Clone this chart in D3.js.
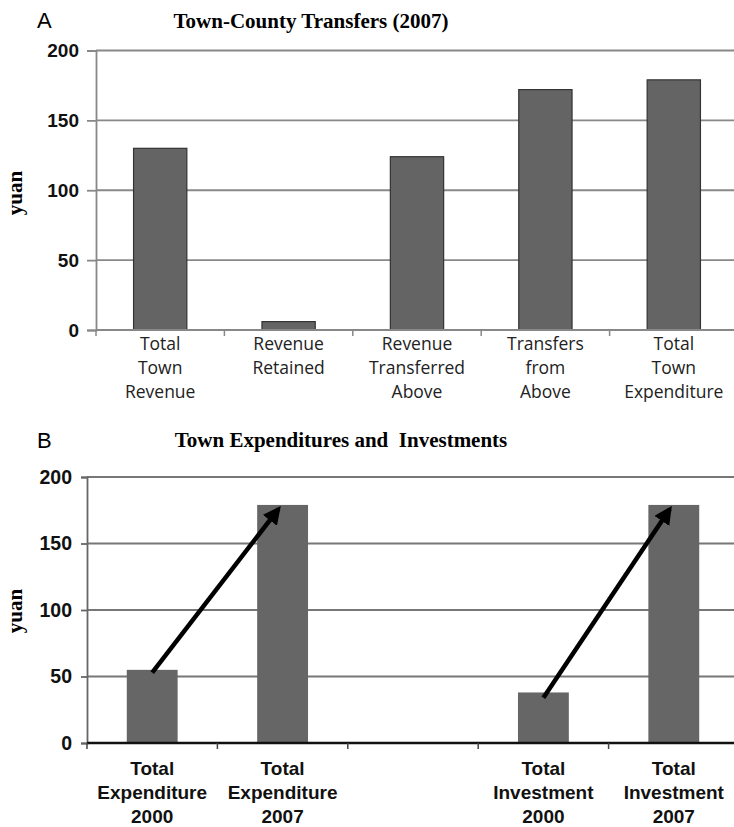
<!DOCTYPE html>
<html>
<head>
<meta charset="utf-8">
<script src="https://cdn.jsdelivr.net/npm/d3@7"></script>
<style>
  body { margin: 0; background: #fff; }
  svg { display: block; }
</style>
</head>
<body>
<div id="chart"></div>
<script>
// panel A data
const catsA = ["Total Town Revenue", "Revenue Retained", "Revenue Transferred Above", "Transfers from Above", "Total Town Expenditure"];
const labelsA = [["Total", "Town", "Revenue"], ["Revenue", "Retained"], ["Revenue", "Transferred", "Above"], ["Transfers", "from", "Above"], ["Total", "Town", "Expenditure"]];
const valuesA = [130, 6, 124, 172, 179];

// panel B data (third slot is an empty gap)
const catsB = ["Total Expenditure 2000", "Total Expenditure 2007", "gap", "Total Investment 2000", "Total Investment 2007"];
const labelsB = [["Total", "Expenditure", "2000"], ["Total", "Expenditure", "2007"], [], ["Total", "Investment", "2000"], ["Total", "Investment", "2007"]];
const valuesB = [55, 179, null, 38, 179];
// arrows: from bar -> to bar, with start / end values
const arrowsB = [
  { from: "Total Expenditure 2000", fromVal: 53, to: "Total Expenditure 2007", toVal: 176 },
  { from: "Total Investment 2000", fromVal: 34, to: "Total Investment 2007", toVal: 176 }
];
const yTicks = [0, 50, 100, 150, 200];

const W = 734, H = 827;
const svg = d3.select("#chart").append("svg").attr("width", W).attr("height", H);

svg.append("defs").append("marker")
  .attr("id", "arrowHead")
  .attr("viewBox", "0 0 10 10")
  .attr("refX", 8).attr("refY", 5)
  .attr("markerWidth", 4).attr("markerHeight", 4)
  .attr("orient", "auto")
  .append("path")
  .attr("d", "M0,0 L10,5 L0,10 Z")
  .attr("fill", "#000");

const sans = "Liberation Sans, Arial, sans-serif";
const serif = "Liberation Serif, Times New Roman, serif";

// ---------- Panel A ----------
let xA = d3.scaleBand().domain(catsA).range([96, 738]).paddingInner(0.585).paddingOuter(0.2925);
let yA = d3.scaleLinear().domain([0, 200]).range([330, 50.5]);

const gA = svg.append("g");

gA.append("text").attr("x", 37).attr("y", 28)
  .style("font-family", sans).style("font-size", "22px")
  .text("A");
gA.append("text").attr("x", 311).attr("y", 28).attr("text-anchor", "middle")
  .style("font-family", serif).style("font-size", "21px").style("font-weight", "bold")
  .text("Town-County Transfers (2007)");

// gridlines
gA.selectAll(".gridA").data(yTicks.slice(1)).join("line")
  .attr("x1", 96).attr("x2", 734)
  .attr("y1", d => yA(d)).attr("y2", d => yA(d))
  .attr("stroke", "#888").attr("stroke-width", 1.8);

// y axis
const yAxisA = gA.append("g").attr("transform", "translate(96,0)")
  .call(d3.axisLeft(yA).tickValues(yTicks).tickSize(9).tickPadding(8));
yAxisA.select(".domain").attr("stroke", "#888").attr("stroke-width", 1.8);
yAxisA.selectAll(".tick line").attr("stroke", "#888").attr("stroke-width", 1.8);
yAxisA.selectAll(".tick text")
  .style("font-family", sans).style("font-size", "19px").style("font-weight", "bold").attr("fill", "#111");

gA.append("text").attr("transform", "translate(22,193) rotate(-90)").attr("text-anchor", "middle")
  .style("font-family", serif).style("font-size", "21px").style("font-weight", "bold")
  .text("yuan");

// bars
gA.selectAll(".barA").data(catsA).join("rect")
  .attr("x", d => xA(d)).attr("width", xA.bandwidth())
  .attr("y", (d, i) => yA(valuesA[i])).attr("height", (d, i) => yA(0) - yA(valuesA[i]))
  .attr("fill", "#646464").attr("stroke", "#333").attr("stroke-width", 1.2);

// x axis baseline + band ticks
const gapA = (xA.step() - xA.bandwidth()) / 2;
gA.append("line").attr("x1", 96).attr("x2", 734).attr("y1", yA(0)).attr("y2", yA(0))
  .attr("stroke", "#888").attr("stroke-width", 1.8);
gA.selectAll(".tickA").data(catsA).join("line")
  .attr("x1", d => xA(d) - gapA).attr("x2", d => xA(d) - gapA)
  .attr("y1", yA(0)).attr("y2", yA(0) + 6)
  .attr("stroke", "#888").attr("stroke-width", 1.5);

// category labels
gA.selectAll(".labA").data(catsA).join("text")
  .attr("x", d => xA(d) + xA.bandwidth() / 2).attr("y", yA(0) + 20)
  .attr("text-anchor", "middle")
  .style("font-family", "Open Sans, sans-serif").style("font-size", "17.5px").attr("fill", "#222")
  .each(function (d, i) {
    d3.select(this).selectAll("tspan").data(labelsA[i]).join("tspan")
      .attr("x", xA(d) + xA.bandwidth() / 2).attr("dy", (t, j) => j === 0 ? 0 : 24)
      .text(t => t);
  });

// ---------- Panel B ----------
let xB = d3.scaleBand().domain(catsB).range([87, 739]).paddingInner(0.61).paddingOuter(0.305);
let yB = d3.scaleLinear().domain([0, 200]).range([743, 477]);

const gB = svg.append("g");

gB.append("text").attr("x", 37).attr("y", 448)
  .style("font-family", sans).style("font-size", "22px")
  .text("B");
gB.append("text").attr("x", 341).attr("y", 447).attr("text-anchor", "middle")
  .style("font-family", serif).style("font-size", "21px").style("font-weight", "bold")
  .style("white-space", "pre")
  .text("Town Expenditures and  Investments");

gB.selectAll(".gridB").data(yTicks.slice(1)).join("line")
  .attr("x1", 87).attr("x2", 734)
  .attr("y1", d => yB(d)).attr("y2", d => yB(d))
  .attr("stroke", "#777").attr("stroke-width", 1.8);

const yAxisB = gB.append("g").attr("transform", "translate(87,0)")
  .call(d3.axisLeft(yB).tickValues(yTicks).tickSize(6).tickPadding(9));
yAxisB.select(".domain").attr("stroke", "#666").attr("stroke-width", 1.8);
yAxisB.selectAll(".tick line").attr("stroke", "#666").attr("stroke-width", 1.8);
yAxisB.selectAll(".tick text")
  .style("font-family", sans).style("font-size", "19.5px").style("font-weight", "bold").attr("fill", "#111");

gB.append("text").attr("transform", "translate(22,611) rotate(-90)").attr("text-anchor", "middle")
  .style("font-family", serif).style("font-size", "21px").style("font-weight", "bold")
  .text("yuan");

gB.selectAll(".barB").data(catsB.filter((d, i) => valuesB[i] != null)).join("rect")
  .attr("x", d => xB(d)).attr("width", xB.bandwidth())
  .attr("y", d => yB(valuesB[catsB.indexOf(d)]))
  .attr("height", d => yB(0) - yB(valuesB[catsB.indexOf(d)]))
  .attr("fill", "#666");

const gapB = (xB.step() - xB.bandwidth()) / 2;
gB.append("line").attr("x1", 87).attr("x2", 734).attr("y1", yB(0)).attr("y2", yB(0))
  .attr("stroke", "#111").attr("stroke-width", 2.5);
gB.selectAll(".tickB").data(catsB).join("line")
  .attr("x1", d => xB(d) - gapB).attr("x2", d => xB(d) - gapB)
  .attr("y1", yB(0)).attr("y2", yB(0) + 6)
  .attr("stroke", "#444").attr("stroke-width", 1.5);

gB.selectAll(".labB").data(catsB).join("text")
  .attr("x", d => xB(d) + xB.bandwidth() / 2).attr("y", yB(0) + 32)
  .attr("text-anchor", "middle")
  .style("font-family", sans).style("font-size", "19px").style("font-weight", "bold").attr("fill", "#111")
  .each(function (d, i) {
    d3.select(this).selectAll("tspan").data(labelsB[i]).join("tspan")
      .attr("x", xB(d) + xB.bandwidth() / 2).attr("dy", (t, j) => j === 0 ? 0 : 24)
      .text(t => t);
  });

// arrows
gB.selectAll(".arrowB").data(arrowsB).join("line")
  .attr("x1", d => xB(d.from) + xB.bandwidth() / 2).attr("y1", d => yB(d.fromVal))
  .attr("x2", d => xB(d.to) + xB.bandwidth() / 2 - 4).attr("y2", d => yB(d.toVal))
  .attr("stroke", "#000").attr("stroke-width", 4.5)
  .attr("marker-end", "url(#arrowHead)");
</script>
</body>
</html>
